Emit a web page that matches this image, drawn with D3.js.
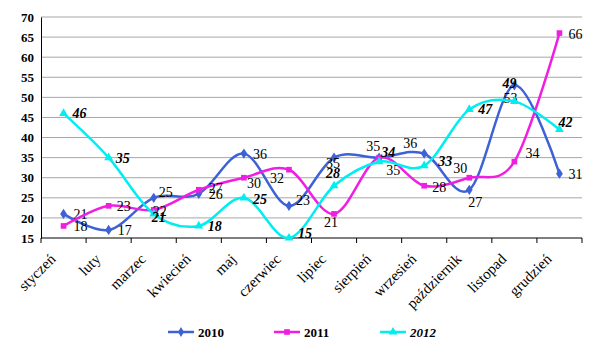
<!DOCTYPE html>
<html>
<head>
<meta charset="utf-8">
<script src="https://cdn.jsdelivr.net/npm/d3@7"></script>
<style>
  body { margin: 0; background: #fff; }
  svg text { font-family: "Liberation Serif", "DejaVu Serif", serif !important; }
</style>
</head>
<body>
<div id="chart"></div>
<script>
var months = ['styczeń', 'luty', 'marzec', 'kwiecień', 'maj', 'czerwiec', 'lipiec',
              'sierpień', 'wrzesień', 'październik', 'listopad', 'grudzień']
var yTicks = [15, 20, 25, 30, 35, 40, 45, 50, 55, 60, 65, 70]
var seriesNames = ['2010', '2011', '2012']
var values2010 = [21, 17, 25, 26, 36, 23, 35, 35, 36, 27, 53, 31]
var values2011 = [18, 23, 22, 27, 30, 32, 21, 35, 28, 30, 34, 66]
var values2012 = [46, 35, 21, 18, 25, 15, 28, 34, 33, 47, 49, 42]

var width = 600, height = 351
var margin = { left: 41, right: 18, top: 17, bottom: 113 }
var serif = '"Liberation Serif", "DejaVu Serif", serif'

var svg = d3.select('#chart').append('svg')
    .attr('width', width)
    .attr('height', height)
    .style('font-family', serif)

var x = d3.scaleBand()
    .domain(months)
    .range([margin.left, width - margin.right])

var y = d3.scaleLinear()
    .domain([15, 70])
    .range([height - margin.bottom, margin.top])

// gridlines
svg.append('g')
    .selectAll('line')
    .data(yTicks.slice(1))
    .enter()
    .append('line')
    .attr('x1', margin.left)
    .attr('x2', width - margin.right)
    .attr('y1', function(d) { return y(d) })
    .attr('y2', function(d) { return y(d) })
    .attr('stroke', '#a6a6a6')
    .attr('stroke-width', 1)

// y axis
var yAxis = svg.append('g')
    .attr('transform', 'translate(' + margin.left + ',0)')
    .call(d3.axisLeft(y).tickValues(yTicks).tickSize(0).tickPadding(7))
yAxis.attr('font-family', null)
yAxis.select('.domain').attr('stroke', '#000')
yAxis.selectAll('text')
    .attr('font-size', 13)
    .attr('font-weight', 'bold')
    .style('font-family', serif)
    .attr('fill', '#000')

// x axis, ticks on category boundaries
var xAxisG = svg.append('g')
    .attr('transform', 'translate(0,' + y(15) + ')')
xAxisG.append('line')
    .attr('x1', margin.left)
    .attr('x2', width - margin.right)
    .attr('stroke', '#000')
xAxisG.selectAll('.tk')
    .data(months.concat(['end']))
    .enter()
    .append('line')
    .attr('class', 'tk')
    .attr('x1', function(d) { return d == 'end' ? x.range()[1] : x(d) })
    .attr('x2', function(d) { return d == 'end' ? x.range()[1] : x(d) })
    .attr('y1', 0)
    .attr('y2', 5)
    .attr('stroke', '#000')
xAxisG.selectAll('.lbl')
    .data(months)
    .enter()
    .append('text')
    .attr('class', 'lbl')
    .attr('text-anchor', 'end')
    .attr('font-size', 15)
    .attr('transform', function(d) {
        return 'translate(' + (x(d) + x.bandwidth() / 2 - 7) + ',22) rotate(-45)'
    })
    .text(function(d) { return d })

var cx = function(i) { return x(months[i]) + x.bandwidth() / 2 }

var styles = [
    { name: seriesNames[0], values: values2010, color: '#3d62d6', marker: d3.symbolDiamond, size: 30, italic: false },
    { name: seriesNames[1], values: values2011, color: '#f01ee0', marker: d3.symbolSquare, size: 32, italic: false },
    { name: seriesNames[2], values: values2012, color: '#00eef0', marker: d3.symbolTriangle, size: 34, italic: true }
]

// label placement: [dx of text start, dy of text middle] from the point
var labelShift = [
    [[10, 0], [9, 0], [5, -6], [10, 0], [9, 0], [7, -6], [-8, 5], [-13, -12], [-21, -11], [-1, 12], [-11, 13], [9, 0]],
    [[10, 0], [8, 0], [-1, 1], [10, -2], [3, 5], [-19, 8], [-10, 8], [7, 12], [8, 1], [-16, -10], [11, -9], [9, 1]],
    [[9, 0], [7, 0], [-2, 3], [9, 0], [9, 1], [9, -5], [-8, -13], [2, -10], [14, -5], [9, 0], [-12, -18], [-1, -7]]
]

var line = d3.line()
    .x(function(d, i) { return cx(i) })
    .y(function(d) { return y(d) })
    .curve(d3.curveCardinal.tension(0))

styles.forEach(function(s, si) {
    svg.append('path')
        .datum(s.values)
        .attr('d', line)
        .attr('fill', 'none')
        .attr('stroke', s.color)
        .attr('stroke-width', 2.5)

    svg.append('g')
        .selectAll('path')
        .data(s.values)
        .enter()
        .append('path')
        .attr('d', d3.symbol().type(s.marker).size(s.size))
        .attr('transform', function(d, i) {
            var sc = s.marker == d3.symbolDiamond ? ' scale(1.15,1)' : ''
            return 'translate(' + cx(i) + ',' + y(d) + ')' + sc
        })
        .attr('fill', s.color)

    svg.append('g')
        .selectAll('text')
        .data(s.values)
        .enter()
        .append('text')
        .attr('x', function(d, i) { return cx(i) + labelShift[si][i][0] })
        .attr('y', function(d, i) { return y(d) + labelShift[si][i][1] })
        .attr('dy', '0.35em')
        .attr('font-size', 14)
        .attr('font-style', s.italic ? 'italic' : 'normal')
        .attr('font-weight', s.italic ? 'bold' : 'normal')
        .text(function(d) { return d })
})

// legend
var legendX = [168, 274, 380]
var legend = svg.append('g')
    .selectAll('g')
    .data(styles)
    .enter()
    .append('g')
    .attr('transform', function(d, i) { return 'translate(' + legendX[i] + ',332)' })
legend.append('line')
    .attr('x1', 0).attr('x2', 26)
    .attr('stroke', function(d) { return d.color })
    .attr('stroke-width', 2.5)
legend.append('path')
    .attr('d', function(d) { return d3.symbol().type(d.marker).size(d.size)() })
    .attr('transform', 'translate(13,0)')
    .attr('fill', function(d) { return d.color })
legend.append('text')
    .attr('x', 30)
    .attr('y', 5)
    .attr('font-size', 13)
    .attr('font-weight', 'bold')
    .attr('font-style', function(d) { return d.italic ? 'italic' : 'normal' })
    .text(function(d) { return d.name })
</script>
</body>
</html>
